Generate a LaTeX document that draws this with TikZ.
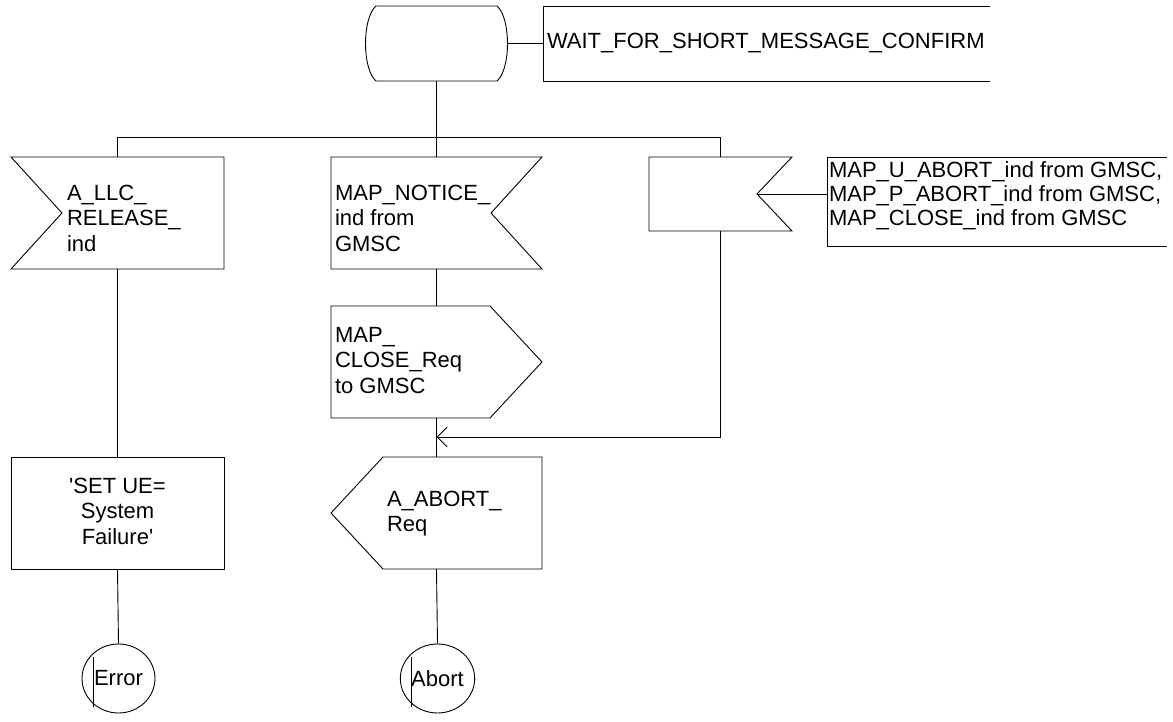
\documentclass[tikz,border=0pt]{standalone}
\usepackage{fontspec}
\setmainfont{Liberation Sans}
\usetikzlibrary{arrows.meta,shapes.geometric}
\tikzset{
  ln/.style={line width=0.9pt, draw=black},
  frame/.style={draw=none, inner sep=0pt, outer sep=0pt, shape=rectangle},
  txt/.style={inner sep=0pt, outer sep=0pt, font=\fontsize{22pt}{25.5pt}\selectfont},
  cmt/.style={inner sep=0pt, outer sep=0pt, font=\fontsize{22pt}{24pt}\selectfont},
  term/.style={ellipse, draw=black, line width=0.9pt, inner sep=0pt, minimum width=73pt, minimum height=69pt, font=\fontsize{22pt}{25.5pt}\selectfont},
}
\begin{document}
\begin{tikzpicture}[x=1pt,y=-1pt]
\useasboundingbox (0,0) rectangle (1173,722);
% state
\node[frame, minimum width=121pt, minimum height=75pt] (state) at (436.5,43.5) {};
\draw[ln] (state.north west) -- (state.north east)
  .. controls ([xshift=14pt,yshift=-12pt]state.north east) and ([xshift=14pt,yshift=12pt]state.south east) .. (state.south east)
  -- (state.south west)
  .. controls ([xshift=-14pt,yshift=12pt]state.south west) and ([xshift=-14pt,yshift=-12pt]state.north west) .. (state.north west);
\coordinate (statebulge) at ([xshift=10.5pt]state.east);
\coordinate (slbl) at (543,43.5);
\draw[ln] (990,6) -- (543,6) -- (543,81) -- (990,81);
\node[txt, anchor=base west] (waittxt) at (547,49) {WAIT\_FOR\_SHORT\_MESSAGE\_CONFIRM};
\draw[ln] (statebulge) -- (slbl);
% branch
\coordinate (br) at (436.5,137);
\draw[line width=1.5pt] (state.south) -- (br);
% inputs
\node[frame, minimum width=213pt, minimum height=112pt] (in1) at (117.5,213) {};
\draw[ln] (in1.north west) -- (in1.north east) -- (in1.south east) -- (in1.south west) -- ([xshift=51pt]in1.west) -- cycle;
\node[txt, anchor=north west, align=left] (in1t) at (67,185) {A\_LLC\_\\RELEASE\_\\ind};

\node[frame, minimum width=211pt, minimum height=112pt] (in2) at (436.5,213) {};
\draw[ln] (in2.north west) -- (in2.north east) -- ([xshift=-51pt]in2.east) -- (in2.south east) -- (in2.south west) -- cycle;
\node[txt, anchor=north west, align=left] (in2t) at (335,185) {MAP\_NOTICE\_\\ind from\\GMSC};

\node[frame, minimum width=143pt, minimum height=74pt] (in3) at (720.5,194) {};
\draw[ln] (in3.north west) -- (in3.north east) -- ([xshift=-35pt]in3.east) -- (in3.south east) -- (in3.south west) -- cycle;
\coordinate (in3tip) at ([xshift=-35pt]in3.east);
\coordinate (cbox) at (827,194);
\draw[ln] (1167,157) -- (827,157) -- (827,246) -- (1167,246);
\node[cmt, anchor=north west, align=left] (cmtt) at (829,162) {MAP\_U\_ABORT\_ind from GMSC,\\MAP\_P\_ABORT\_ind from GMSC,\\MAP\_CLOSE\_ind from GMSC};
\draw[ln] (in3tip) -- (cbox);

\draw[ln] (in1.north) -- (in1.north |- br) -- (in3.north |- br) -- (in3.north);
\draw[ln] (br) -- (in2.north);

% column 2
\node[frame, minimum width=211pt, minimum height=112pt] (o1) at (436.5,362) {};
\draw[ln] (o1.north west) -- ([xshift=-52pt]o1.north east) -- (o1.east) -- ([xshift=-52pt]o1.south east) -- (o1.south west) -- cycle;
\node[txt, anchor=north west, align=left] (o1t) at (335,327) {MAP\_\\CLOSE\_Req\\to GMSC};

\node[frame, minimum width=211pt, minimum height=112pt] (o2) at (436.5,513) {};
\draw[ln] (o2.west) -- ([xshift=52pt]o2.north west) -- (o2.north east) -- (o2.south east) -- ([xshift=52pt]o2.south west) -- cycle;
\node[txt, anchor=north west, align=left] (o2t) at (387,491) {A\_ABORT\_\\Req};

\draw[ln] (in2.south) -- (o1.north);
\draw[ln] (o1.south) -- (o2.north);
\coordinate (merge) at (436.5,437);
\draw[ln, -{Straight Barb[length=10pt,width=20pt,line width=0.9pt]}] (in3.south) |- (merge);

% column 1
\node[frame, draw=black, line width=0.9pt, minimum width=213pt, minimum height=112pt] (task) at (117.5,513) {};
\node[txt, anchor=north, align=center] (taskt) at (117.5,478) {\textquotesingle SET UE=\\System\\Failure\textquotesingle};
\draw[ln] (in1.south) -- (task.north);

\node[term] (err) at (118.5,678.5) {Error};
\draw[ln] (93,657) -- (93,707);
\draw[ln] (task.south) -- (err.north);

\node[term] (abt) at (437.5,678.5) {Abort};
\draw[ln] (411,657) -- (411,707);
\draw[ln] (o2.south) -- (abt.north);
\end{tikzpicture}
\end{document}
